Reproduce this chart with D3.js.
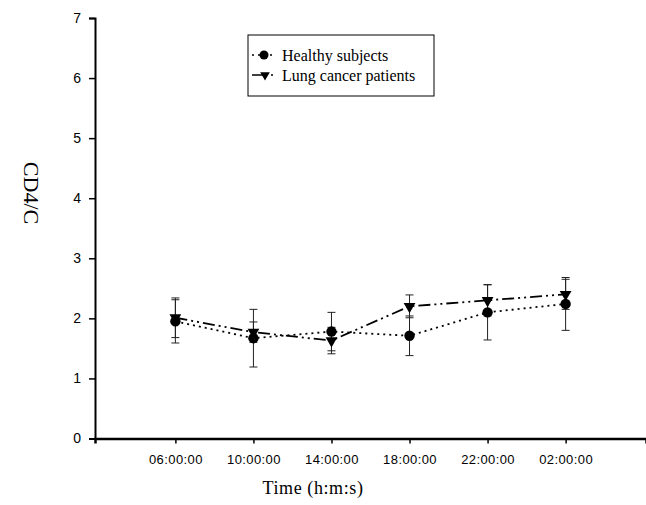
<!DOCTYPE html>
<html>
<head>
<meta charset="utf-8">
<script src="https://cdn.jsdelivr.net/npm/d3@7"></script>
<style>
  body { margin: 0; background: #fff; }
  svg { display: block; }
  .tick text { font-family: Arial, "Liberation Sans", sans-serif; }
</style>
</head>
<body>
<svg width="646" height="505"></svg>
<script>
const times   = ['06:00:00', '10:00:00', '14:00:00', '18:00:00', '22:00:00', '02:00:00'];
const healthy = [1.95, 1.67, 1.78, 1.71, 2.10, 2.24];
const healthyErr = [0.36, 0.48, 0.32, 0.33, 0.46, 0.44];
const lung    = [2.01, 1.77, 1.63, 2.20, 2.30, 2.40];
const lungErr = [0.33, 0.17, 0.22, 0.19, 0.26, 0.25];
const yTicks  = [0, 1, 2, 3, 4, 5, 6, 7];

const series = [
  { label: 'Lung cancer patients', values: lung, err: lungErr, dash: '12,4,2,4,2,4', marker: 'tri' },
  { label: 'Healthy subjects', values: healthy, err: healthyErr, dash: '2,4', marker: 'dot' }
];

function draw () {
  let svg = d3.select('svg');

  let x = d3.scalePoint().domain(times).range([95, 646]).padding(1.03);
  let y = d3.scaleLinear().domain([0, 7]).range([438.5, 18]);

  // Axes
  svg.append('g')
    .attr('transform', 'translate(95,0)')
    .call(d3.axisLeft(y).tickValues(yTicks).tickFormat(d3.format('d')).tickSize(6).tickPadding(8))
    .call(g => {
      g.select('.domain').attr('stroke-width', 2);
      g.selectAll('.tick line').attr('stroke-width', 1.5);
      g.selectAll('.tick text').attr('font-size', 14).attr('fill', '#000');
    });

  svg.append('g')
    .attr('transform', 'translate(0,438.5)')
    .call(d3.axisBottom(x).tickSizeOuter(0).tickSize(5).tickPadding(11))
    .call(g => {
      g.select('.domain').attr('stroke-width', 2.5);
      g.selectAll('.tick line').attr('stroke-width', 1.5);
      g.selectAll('.tick text').attr('font-size', 13).attr('letter-spacing', 0.4).attr('fill', '#000');
    });

  // Axis titles
  svg.append('text')
    .attr('transform', 'translate(24,193) rotate(90)')
    .attr('text-anchor', 'middle')
    .attr('font-family', '"Liberation Serif", "Times New Roman", serif')
    .attr('font-size', 22)
    .text('CD4/C');

  svg.append('text')
    .attr('x', 313)
    .attr('y', 494)
    .attr('text-anchor', 'middle')
    .attr('font-family', '"Liberation Serif", "Times New Roman", serif')
    .attr('font-size', 18)
    .attr('letter-spacing', 0.6)
    .text('Time (h:m:s)');

  let line = d3.line().x((d, i) => x(times[i])).y(d => y(d));

  // Lines
  svg.selectAll('.series-line')
    .data(series)
    .enter().append('path')
      .attr('class', 'series-line')
      .attr('fill', 'none')
      .attr('stroke', '#000')
      .attr('stroke-width', 1.8)
      .attr('stroke-dasharray', d => d.dash)
      .attr('d', d => line(d.values));

  // Error bars
  series.forEach(s => {
    let g = svg.append('g').attr('stroke', '#222').attr('stroke-width', 1);
    s.values.forEach((v, i) => {
      let cx = x(times[i]),
          y0 = y(v - s.err[i]),
          y1 = y(v + s.err[i]);
      g.append('line').attr('x1', cx).attr('x2', cx).attr('y1', y0).attr('y2', y1);
      g.append('line').attr('x1', cx - 4).attr('x2', cx + 4).attr('y1', y0).attr('y2', y0);
      g.append('line').attr('x1', cx - 4).attr('x2', cx + 4).attr('y1', y1).attr('y2', y1);
    });
  });

  // Markers
  let tri = d3.symbol().type(d3.symbolTriangle).size(60);
  series.forEach(s => {
    s.values.forEach((v, i) => {
      if (s.marker === 'dot') {
        svg.append('circle')
          .attr('cx', x(times[i]))
          .attr('cy', y(v))
          .attr('r', 5.2)
          .attr('fill', '#000');
      }
      else {
        svg.append('path')
          .attr('d', tri())
          .attr('transform', `translate(${x(times[i])},${y(v)}) rotate(180)`)
          .attr('fill', '#000');
      }
    });
  });

  // Legend
  let legend = svg.append('g').attr('transform', 'translate(248,35)');
  legend.append('rect')
    .attr('width', 186)
    .attr('height', 61)
    .attr('fill', '#fff')
    .attr('stroke', '#000')
    .attr('stroke-width', 1);

  let items = [series[1], series[0]];
  items.forEach((s, i) => {
    let row = legend.append('g').attr('transform', `translate(0,${20 + i * 20})`);
    if (s.marker === 'dot') {
      row.append('line').attr('x1', 4).attr('x2', 28).attr('stroke', '#000')
        .attr('stroke-width', 1.5).attr('stroke-dasharray', '2,4');
      row.append('circle').attr('cx', 16).attr('r', 4.5).attr('fill', '#000');
    }
    else {
      row.append('line').attr('x1', 4).attr('x2', 17).attr('stroke', '#000').attr('stroke-width', 1.5);
      row.append('line').attr('x1', 17).attr('x2', 28).attr('stroke', '#000')
        .attr('stroke-width', 1.5).attr('stroke-dasharray', '2,4');
      row.append('path').attr('d', d3.symbol().type(d3.symbolTriangle).size(40)())
        .attr('transform', 'translate(17,0) rotate(180)').attr('fill', '#000');
    }
    row.append('text')
      .attr('x', 34)
      .attr('dy', '0.35em')
      .attr('font-family', '"Liberation Serif", "Times New Roman", serif')
      .attr('font-size', 16)
      .text(s.label);
  });
}

draw();
</script>
</body>
</html>
